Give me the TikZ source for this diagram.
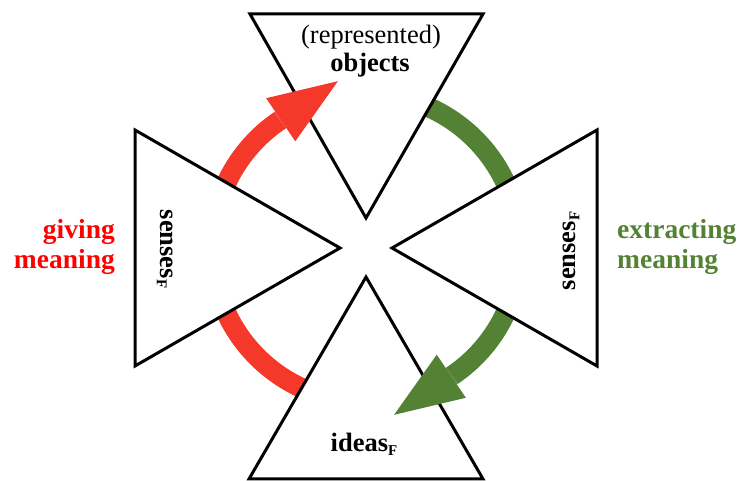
\documentclass[tikz,border=0pt]{standalone}
\usepackage{fontspec}
\setmainfont{Liberation Serif}
\usetikzlibrary{arrows.meta}
\definecolor{arcred}{HTML}{F4392B}
\definecolor{txtred}{HTML}{FF0000}
\definecolor{darkgreen}{HTML}{548235}
\newcommand{\subF}{\raisebox{-4pt}{\fontsize{15}{15}\selectfont F}}

\begin{document}
\begin{tikzpicture}[x=1pt, y=1pt,
        tri/.style = {draw=black, fill=white, line width=3pt, line join=miter},
        txt/.style = {font=\fontsize{26.5}{29}\selectfont, inner sep=0pt},
        btxt/.style = {txt, font=\fontsize{26.5}{29}\selectfont\bfseries},
        side/.style = {txt, font=\fontsize{27.5}{30}\selectfont\bfseries},
        redarc/.style = {draw=arcred, line width=20pt},
        greenarc/.style = {draw=darkgreen, line width=20pt},
        head/.style = {-{Triangle[length=69pt, width=52pt, line width=0pt]}}]
    \useasboundingbox (0,0) rectangle (738,481);
    \coordinate (C) at (366,233);

    % arcs behind the triangles
    \draw[redarc] (C) ++(260:154) arc[start angle=260, end angle=124, radius=154];
    \draw[greenarc] (C) ++(80:154) arc[start angle=80, end angle=-56, radius=154];

    % triangles
    \filldraw[tri] (250,467) -- (483,467) -- (366,263) -- cycle;
    \filldraw[tri] (249,2) -- (483,2) -- (366,204) -- cycle;
    \filldraw[tri] (135,351) -- (135,115) -- (340,233) -- cycle;
    \filldraw[tri] (597,351) -- (597,115) -- (392,233) -- cycle;

    % heads on top
    \draw[redarc, head] (C) ++(124:154) -- ++(34:70);
    \draw[greenarc, head] (C) ++(-56:154) -- ++(-146:70);

    \node[txt, anchor=base] (rep) at (371,437) {(represented)};
    \node[btxt, anchor=base] (obj) at (370,409) {objects};
    \node[btxt, anchor=base] (ideas) at (364,29) {ideas\subF};
    \node[btxt, rotate=-90] (sensL) at (165,232) {senses\subF};
    \node[btxt, rotate=90] (sensR) at (571,230) {senses\subF};
    \node[side, align=right, anchor=east, text=txtred] (give) at (115,234) {giving\\meaning};
    \node[side, align=left, anchor=west, text=darkgreen] (extr) at (617,234) {extracting\\meaning};
\end{tikzpicture}
\end{document}
